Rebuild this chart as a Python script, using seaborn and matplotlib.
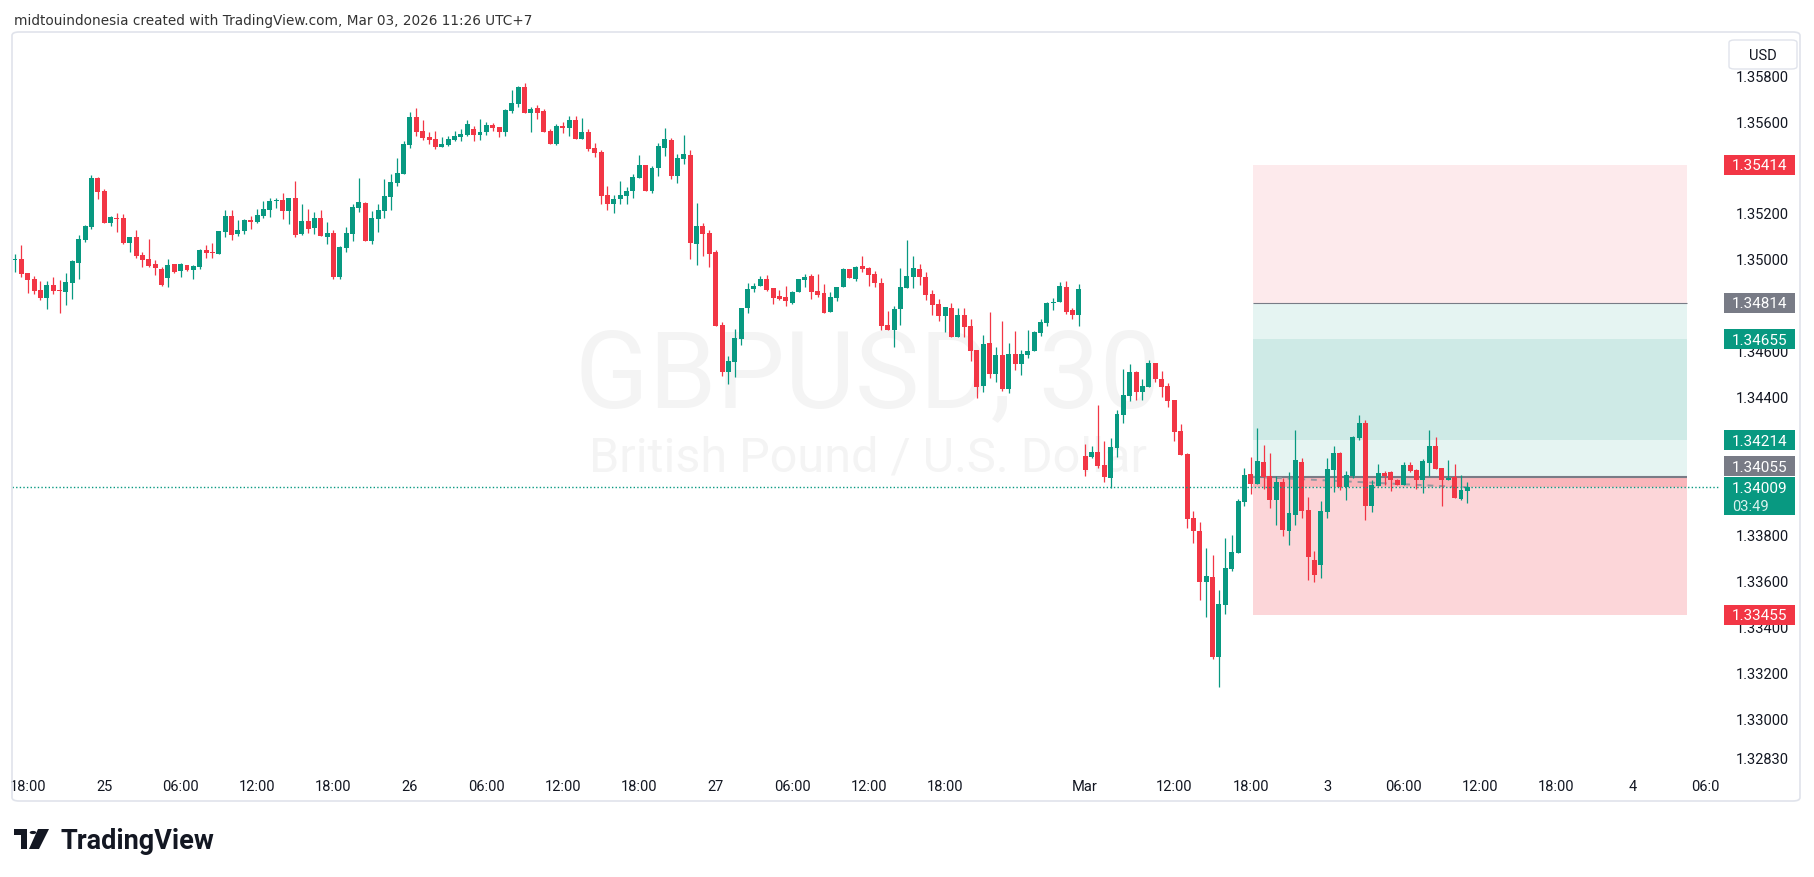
import numpy as np
import pandas as pd
import seaborn as sns
import matplotlib.pyplot as plt
from matplotlib.patches import Rectangle, FancyBboxPatch, Circle, Polygon

# GBPUSD 30m candles, Feb 24 17:00 -> Mar 3 11:00 (UTC+7), weekend bars removed
opens = [
    1.34998, 1.35002, 1.34941, 1.34915, 1.34867, 1.34834, 1.34889, 1.34869, 1.34860, 1.34899,
    1.34986, 1.35085, 1.35143, 1.35355, 1.35300, 1.35160, 1.35184, 1.35181, 1.35073, 1.35098,
    1.35020, 1.35002, 1.34980, 1.34962, 1.34921, 1.34980, 1.34951, 1.34976, 1.34955, 1.34969,
    1.35041, 1.35033, 1.35025, 1.35121, 1.35189, 1.35114, 1.35125, 1.35172, 1.35163, 1.35191,
    1.35217, 1.35255, 1.35259, 1.35212, 1.35268, 1.35112, 1.35168, 1.35138, 1.35181, 1.35099,
    1.35115, 1.34925, 1.35051, 1.35112, 1.35227, 1.35246, 1.35082, 1.35176, 1.35212, 1.35274,
    1.35334, 1.35374, 1.35499, 1.35620, 1.35560, 1.35534, 1.35525, 1.35492, 1.35499, 1.35521,
    1.35534, 1.35542, 1.35568, 1.35542, 1.35555, 1.35586, 1.35577, 1.35555, 1.35648, 1.35677,
    1.35751, 1.35640, 1.35660, 1.35647, 1.35560, 1.35505, 1.35581, 1.35575, 1.35607, 1.35525,
    1.35555, 1.35486, 1.35469, 1.35283, 1.35241, 1.35263, 1.35280, 1.35298, 1.35356, 1.35412,
    1.35298, 1.35399, 1.35488, 1.35521, 1.35364, 1.35438, 1.35455, 1.35069, 1.35146, 1.35116,
    1.35033, 1.34715, 1.34512, 1.34555, 1.34657, 1.34788, 1.34871, 1.34884, 1.34918, 1.34876,
    1.34843, 1.34838, 1.34812, 1.34860, 1.34911, 1.34928, 1.34863, 1.34854, 1.34773, 1.34834,
    1.34880, 1.34959, 1.34915, 1.34972, 1.34963, 1.34937, 1.34898, 1.34715, 1.34695, 1.34784,
    1.34876, 1.34924, 1.34959, 1.34924, 1.34850, 1.34807, 1.34755, 1.34790, 1.34664, 1.34759,
    1.34711, 1.34607, 1.34451, 1.34637, 1.34503, 1.34585, 1.34438, 1.34589, 1.34547, 1.34586,
    1.34603, 1.34682, 1.34725, 1.34813, 1.34817, 1.34881, 1.34783, 1.34759, 1.34145, 1.34142,
    1.34165, 1.34106, 1.34051, 1.34182, 1.34325, 1.34408, 1.34511, 1.34425, 1.34447, 1.34550,
    1.34481, 1.34450, 1.34389, 1.34254, 1.34154, 1.33876, 1.33819, 1.33595, 1.33618, 1.33271,
    1.33498, 1.33654, 1.33724, 1.33946, 1.34067, 1.34023, 1.34119, 1.34058, 1.33955, 1.34032,
    1.33820, 1.33890, 1.34119, 1.33911, 1.33693, 1.33671, 1.33903, 1.34085, 1.34159, 1.34012,
    1.34058, 1.34225, 1.34289, 1.33926, 1.34016, 1.34072, 1.34076, 1.34041, 1.34021, 1.34106,
    1.34085, 1.34039, 1.34117, 1.34189, 1.34093, 1.34039, 1.34056, 1.33960, 1.33995,
]
highs = [
    1.35027, 1.35063, 1.34942, 1.34928, 1.34906, 1.34906, 1.34924, 1.34911, 1.34941, 1.35001,
    1.35107, 1.35150, 1.35368, 1.35361, 1.35307, 1.35189, 1.35203, 1.35198, 1.35098, 1.35128,
    1.35033, 1.35089, 1.34998, 1.34969, 1.35002, 1.34983, 1.34985, 1.34979, 1.34979, 1.35049,
    1.35063, 1.35072, 1.35124, 1.35216, 1.35216, 1.35172, 1.35176, 1.35189, 1.35220, 1.35255,
    1.35268, 1.35268, 1.35291, 1.35270, 1.35342, 1.35242, 1.35220, 1.35207, 1.35216, 1.35163,
    1.35128, 1.35059, 1.35142, 1.35242, 1.35355, 1.35252, 1.35211, 1.35242, 1.35351, 1.35372,
    1.35442, 1.35516, 1.35642, 1.35660, 1.35607, 1.35555, 1.35560, 1.35534, 1.35538, 1.35560,
    1.35568, 1.35609, 1.35581, 1.35612, 1.35599, 1.35594, 1.35580, 1.35655, 1.35738, 1.35755,
    1.35768, 1.35664, 1.35673, 1.35655, 1.35568, 1.35590, 1.35599, 1.35625, 1.35625, 1.35616,
    1.35568, 1.35508, 1.35477, 1.35322, 1.35283, 1.35344, 1.35318, 1.35372, 1.35455, 1.35412,
    1.35410, 1.35508, 1.35573, 1.35529, 1.35459, 1.35542, 1.35477, 1.35247, 1.35160, 1.35129,
    1.35043, 1.34728, 1.34580, 1.34700, 1.34791, 1.34900, 1.34900, 1.34931, 1.34935, 1.34876,
    1.34867, 1.34885, 1.34862, 1.34915, 1.34937, 1.34937, 1.34937, 1.34893, 1.34860, 1.34880,
    1.34963, 1.34959, 1.34972, 1.35015, 1.34968, 1.34950, 1.34919, 1.34777, 1.34797, 1.34964,
    1.35085, 1.35015, 1.34981, 1.34946, 1.34867, 1.34830, 1.34794, 1.34814, 1.34790, 1.34790,
    1.34742, 1.34607, 1.34671, 1.34772, 1.34619, 1.34733, 1.34637, 1.34689, 1.34606, 1.34693,
    1.34689, 1.34741, 1.34815, 1.34833, 1.34902, 1.34907, 1.34791, 1.34893, 1.34198, 1.34189,
    1.34368, 1.34209, 1.34226, 1.34346, 1.34524, 1.34545, 1.34515, 1.34481, 1.34563, 1.34550,
    1.34515, 1.34463, 1.34389, 1.34285, 1.34160, 1.33907, 1.33858, 1.33745, 1.33714, 1.33562,
    1.33788, 1.33801, 1.33958, 1.34093, 1.34141, 1.34267, 1.34193, 1.34158, 1.34058, 1.34051,
    1.34076, 1.34259, 1.34137, 1.33967, 1.33730, 1.33949, 1.34137, 1.34189, 1.34163, 1.34081,
    1.34232, 1.34324, 1.34302, 1.34041, 1.34111, 1.34080, 1.34080, 1.34045, 1.34119, 1.34119,
    1.34090, 1.34132, 1.34259, 1.34228, 1.34093, 1.34128, 1.34111, 1.34063, 1.34033,
]
lows = [
    1.34947, 1.34925, 1.34855, 1.34853, 1.34825, 1.34786, 1.34853, 1.34768, 1.34803, 1.34831,
    1.34916, 1.35078, 1.35136, 1.35265, 1.35160, 1.35147, 1.35121, 1.35069, 1.35033, 1.35008,
    1.34969, 1.34969, 1.34934, 1.34886, 1.34881, 1.34943, 1.34925, 1.34953, 1.34916, 1.34962,
    1.35008, 1.35008, 1.35025, 1.35099, 1.35085, 1.35104, 1.35114, 1.35133, 1.35160, 1.35182,
    1.35186, 1.35226, 1.35176, 1.35156, 1.35099, 1.35110, 1.35117, 1.35112, 1.35102, 1.35069,
    1.34916, 1.34916, 1.35034, 1.35082, 1.35208, 1.35082, 1.35069, 1.35121, 1.35182, 1.35216,
    1.35320, 1.35374, 1.35486, 1.35541, 1.35522, 1.35505, 1.35484, 1.35490, 1.35495, 1.35516,
    1.35516, 1.35540, 1.35516, 1.35521, 1.35542, 1.35560, 1.35535, 1.35538, 1.35640, 1.35664,
    1.35640, 1.35557, 1.35612, 1.35557, 1.35505, 1.35501, 1.35551, 1.35538, 1.35525, 1.35525,
    1.35475, 1.35446, 1.35241, 1.35215, 1.35202, 1.35245, 1.35245, 1.35268, 1.35356, 1.35298,
    1.35289, 1.35364, 1.35451, 1.35351, 1.35333, 1.35416, 1.35003, 1.34977, 1.35017, 1.34969,
    1.34712, 1.34495, 1.34460, 1.34491, 1.34631, 1.34768, 1.34858, 1.34884, 1.34865, 1.34807,
    1.34826, 1.34799, 1.34807, 1.34860, 1.34880, 1.34830, 1.34838, 1.34768, 1.34773, 1.34821,
    1.34880, 1.34922, 1.34906, 1.34946, 1.34886, 1.34880, 1.34693, 1.34695, 1.34619, 1.34716,
    1.34876, 1.34876, 1.34889, 1.34825, 1.34759, 1.34733, 1.34686, 1.34664, 1.34664, 1.34664,
    1.34560, 1.34399, 1.34425, 1.34486, 1.34469, 1.34430, 1.34418, 1.34521, 1.34499, 1.34573,
    1.34603, 1.34669, 1.34712, 1.34782, 1.34817, 1.34765, 1.34741, 1.34712, 1.34060, 1.34135,
    1.34092, 1.34034, 1.34008, 1.34142, 1.34291, 1.34387, 1.34391, 1.34389, 1.34447, 1.34469,
    1.34403, 1.34360, 1.34212, 1.34151, 1.33834, 1.33768, 1.33517, 1.33446, 1.33262, 1.33141,
    1.33457, 1.33645, 1.33724, 1.33927, 1.33981, 1.34023, 1.34003, 1.33920, 1.33847, 1.33795,
    1.33756, 1.33847, 1.33877, 1.33605, 1.33597, 1.33614, 1.33877, 1.33990, 1.33999, 1.33956,
    1.34051, 1.34217, 1.33866, 1.33903, 1.34016, 1.34021, 1.33995, 1.34021, 1.34021, 1.34077,
    1.34003, 1.33983, 1.34058, 1.34090, 1.33926, 1.34039, 1.33964, 1.33956, 1.33942,
]
closes = [
    1.35004, 1.34938, 1.34912, 1.34864, 1.34834, 1.34889, 1.34864, 1.34866, 1.34902, 1.34995,
    1.35089, 1.35146, 1.35355, 1.35295, 1.35160, 1.35186, 1.35176, 1.35073, 1.35098, 1.35017,
    1.34999, 1.34973, 1.34964, 1.34890, 1.34976, 1.34947, 1.34982, 1.34955, 1.34971, 1.35041,
    1.35030, 1.35030, 1.35124, 1.35189, 1.35108, 1.35128, 1.35172, 1.35163, 1.35194, 1.35220,
    1.35255, 1.35259, 1.35212, 1.35268, 1.35108, 1.35168, 1.35134, 1.35181, 1.35104, 1.35115,
    1.34925, 1.35054, 1.35115, 1.35229, 1.35250, 1.35082, 1.35181, 1.35216, 1.35277, 1.35338,
    1.35377, 1.35503, 1.35620, 1.35557, 1.35531, 1.35522, 1.35492, 1.35503, 1.35525, 1.35538,
    1.35547, 1.35590, 1.35542, 1.35555, 1.35586, 1.35573, 1.35555, 1.35651, 1.35681, 1.35751,
    1.35640, 1.35655, 1.35640, 1.35557, 1.35505, 1.35581, 1.35573, 1.35607, 1.35525, 1.35555,
    1.35484, 1.35466, 1.35280, 1.35241, 1.35266, 1.35283, 1.35301, 1.35359, 1.35412, 1.35298,
    1.35399, 1.35495, 1.35525, 1.35364, 1.35442, 1.35459, 1.35073, 1.35146, 1.35112, 1.35025,
    1.34712, 1.34512, 1.34558, 1.34660, 1.34791, 1.34874, 1.34887, 1.34918, 1.34869, 1.34834,
    1.34830, 1.34821, 1.34860, 1.34915, 1.34924, 1.34860, 1.34845, 1.34768, 1.34838, 1.34880,
    1.34959, 1.34922, 1.34968, 1.34959, 1.34933, 1.34898, 1.34712, 1.34695, 1.34786, 1.34880,
    1.34928, 1.34963, 1.34924, 1.34847, 1.34802, 1.34755, 1.34794, 1.34664, 1.34759, 1.34708,
    1.34603, 1.34445, 1.34632, 1.34503, 1.34585, 1.34437, 1.34589, 1.34547, 1.34589, 1.34602,
    1.34684, 1.34728, 1.34811, 1.34815, 1.34885, 1.34774, 1.34759, 1.34872, 1.34086, 1.34165,
    1.34103, 1.34056, 1.34183, 1.34328, 1.34411, 1.34511, 1.34425, 1.34450, 1.34550, 1.34479,
    1.34447, 1.34387, 1.34251, 1.34151, 1.33873, 1.33817, 1.33595, 1.33623, 1.33271, 1.33501,
    1.33658, 1.33727, 1.33949, 1.34063, 1.34023, 1.34124, 1.34054, 1.33955, 1.34032, 1.33825,
    1.33897, 1.34128, 1.33907, 1.33706, 1.33627, 1.33906, 1.34089, 1.34159, 1.34012, 1.34063,
    1.34228, 1.34289, 1.33926, 1.34019, 1.34072, 1.34058, 1.34039, 1.34021, 1.34106, 1.34081,
    1.34039, 1.34124, 1.34189, 1.34090, 1.34039, 1.34050, 1.33964, 1.33999, 1.34009,
]

# time axis (bar index of each label)
time_ticks = [2, 14, 26, 38, 50, 62, 74, 86, 98, 110, 122, 134, 146,
              168, 182, 194, 206, 218, 230, 242, 254, 266]
time_labels = ["18:00", "25", "06:00", "12:00", "18:00", "26", "06:00", "12:00", "18:00",
               "27", "06:00", "12:00", "18:00", "Mar", "12:00", "18:00", "3", "06:00",
               "12:00", "18:00", "4", "06:00"]
price_ticks = [1.358, 1.356, 1.352, 1.350, 1.346, 1.344, 1.338, 1.336, 1.334, 1.332, 1.330, 1.3283]

# position tools drawn on the chart
short_entry, short_stop, short_target = 1.34814, 1.35414, 1.34214
long_entry, long_target, long_stop = 1.34055, 1.34655, 1.33455
last_price = 1.34009
countdown = "03:49"
tool_x0, tool_x1 = 194.3, 262.5

UP = "#089981"
DOWN = "#f23645"
GREY = "#787b86"
TXT = "#131722"

sns.set_style("white")
plt.rcParams["font.family"] = ["Roboto", "DejaVu Sans"]

W, H = 1814, 877
fig = plt.figure(figsize=(W / 100, H / 100), dpi=100)
fig.patch.set_facecolor("white")


def fx(x):
    return x / W


def fy(y):
    return 1 - y / H


ymin, ymax = 1.327779, 1.359922
ppx = (ymax - ymin) / 738.0

ax = fig.add_axes([fx(12), fy(770), (1720 - 12) / W, (770 - 32) / H])
pax = fig.add_axes([fx(1720), fy(770), (1800 - 1720) / W, (770 - 32) / H])
for a in (ax, pax):
    a.set_ylim(ymin, ymax)
    for s in a.spines.values():
        s.set_visible(False)
    a.set_facecolor("none")
ax.set_xlim(-0.47, 267.66)
pax.set_xlim(0, 80)
pax.set_xticks([])
pax.set_yticks([])
ax.set_yticks([])

df = pd.DataFrame({"open": opens, "high": highs, "low": lows, "close": closes})
df["x"] = np.arange(len(df))
df["color"] = np.where(df["close"] >= df["open"], UP, DOWN)
body_lo = df[["open", "close"]].min(axis=1)
body_h = (df["close"] - df["open"]).abs().clip(lower=0.00004)

# watermark
ax.text(0.501, 0.4919, "GBPUSD, 30", transform=ax.transAxes, ha="center", va="baseline",
        fontsize=78, color="#f4f4f4", zorder=0)
ax.text(0.501, 0.4051, "British Pound / U.S. Dollar", transform=ax.transAxes, ha="center",
        va="baseline", fontsize=35, color="#f4f4f4", zorder=0)

# position tools
ax.fill_between([tool_x0, tool_x1], short_entry, short_stop, color=DOWN, alpha=0.1, lw=0, zorder=1)
ax.fill_between([tool_x0, tool_x1], short_target, short_entry, color=UP, alpha=0.1, lw=0, zorder=1)
ax.fill_between([tool_x0, tool_x1], long_entry, long_target, color=UP, alpha=0.1, lw=0, zorder=1)
ax.fill_between([tool_x0, tool_x1], long_stop, long_entry, color=DOWN, alpha=0.2, lw=0, zorder=1)
ax.fill_between([tool_x0, tool_x1], last_price, long_entry, color=DOWN, alpha=0.2, lw=0, zorder=1)
ax.hlines(short_entry, tool_x0, tool_x1, color=GREY, lw=0.8, zorder=2)
ax.hlines(long_entry, tool_x0, tool_x1, color=GREY, lw=1.5, zorder=2)
ax.plot([tool_x0, len(df) - 1], [long_entry, last_price], color="#9598a1", lw=1.4,
        dashes=(3, 3), zorder=2)

# candles
ax.vlines(df["x"], df["low"], df["high"], colors=df["color"], lw=0.9, zorder=3)
ax.bar(df["x"], body_h, bottom=body_lo, width=0.78, color=df["color"], lw=0, zorder=4)

# last price line
ax.axhline(last_price, color=UP, lw=1, dashes=(1, 1.6), zorder=5)

# time axis
ax.set_xticks(time_ticks)
ax.set_xticklabels(time_labels)
ax.tick_params(axis="x", length=0, pad=7, labelsize=10.5, labelcolor=TXT)

# price axis labels
for p in price_ticks:
    pax.text(16, p, f"{p:.5f}", fontsize=10.5, color=TXT, va="center_baseline", ha="left", zorder=2)


def price_tag(yc, text, color, h=20):
    pax.add_patch(Rectangle((4, yc - h / 2 * ppx), 71, h * ppx, color=color, lw=0, zorder=5))
    pax.text(12, yc, text, color="white", fontsize=11, va="center_baseline", ha="left", zorder=6)


price_tag(short_stop, f"{short_stop:.5f}", DOWN)
price_tag(short_entry, f"{short_entry:.5f}", GREY)
price_tag(long_target, f"{long_target:.5f}", UP)
price_tag(short_target, f"{short_target:.5f}", UP)
price_tag(long_entry + 10.5 * ppx, f"{long_entry:.5f}", GREY)
price_tag(long_stop, f"{long_stop:.5f}", DOWN)
# last price tag with countdown
pax.add_patch(Rectangle((4, last_price - 28 * ppx), 71, 38 * ppx, color=UP, lw=0, zorder=5))
pax.text(12, last_price, f"{last_price:.5f}", color="white", fontsize=11,
         va="center_baseline", ha="left", zorder=6)
pax.text(12, last_price - 18.5 * ppx, countdown, color="#d9f2ee", fontsize=10.5,
         va="center_baseline", ha="left", zorder=6)

# the price scale hides the end of the last time label
fig.add_artist(Rectangle((fx(1720), fy(799)), 79 / W, 28 / H, transform=fig.transFigure,
                         fc="white", ec="none", zorder=9))

# USD button
fig.add_artist(FancyBboxPatch((fx(1729), fy(69)), fx(68), 29 / H,
                              boxstyle="round,pad=0,rounding_size=0.003",
                              transform=fig.transFigure, fc="white", ec="#e0e3eb", lw=1, zorder=10))
fig.text(fx(1763), fy(55), "USD", ha="center", va="center_baseline", fontsize=10.5, color=TXT, zorder=11)

# chart frame
fig.add_artist(FancyBboxPatch((fx(12), fy(801)), (1800 - 12) / W, (801 - 32) / H,
                              boxstyle="round,pad=0,rounding_size=0.004",
                              transform=fig.transFigure, fc="none", ec="#e0e3eb", lw=1.2, zorder=10))

# header
fig.text(fx(14), fy(20), "midtouindonesia created with TradingView.com, Mar 03, 2026 11:26 UTC+7",
         family=["DejaVu Sans"], fontsize=9.8, color="#333333", va="center_baseline", ha="left")

# TradingView logo
logo = [
    Rectangle((fx(14), fy(835)), fx(13), 6 / H),
    Rectangle((fx(21), fy(849)), fx(6), 20 / H),
    Polygon([(fx(38), fy(829)), (fx(49), fy(829)), (fx(39), fy(849)), (fx(29), fy(849))]),
]
for patch in logo:
    patch.set_transform(fig.transFigure)
    patch.set_facecolor("#131722")
    patch.set_edgecolor("none")
    fig.add_artist(patch)
dot = Circle((fx(33), fy(832.5)), 3.3 / W, transform=fig.transFigure, fc="#131722", ec="none")
fig.add_artist(dot)
fig.text(fx(60), fy(849), "TradingView", fontsize=19.5, fontweight="bold", color="#131722",
         va="baseline", ha="left")

fig.savefig("out.png", dpi=100, facecolor="white")
